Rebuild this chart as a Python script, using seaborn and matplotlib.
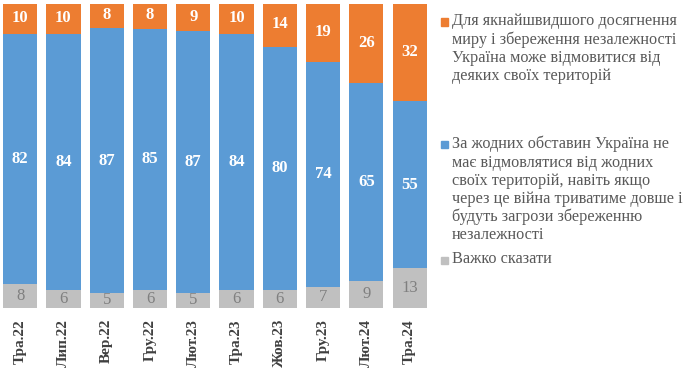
import matplotlib
matplotlib.use("Agg")
import matplotlib.pyplot as plt
import seaborn as sns
import pandas as pd
import numpy as np
from matplotlib.patches import Rectangle

categories = ["Тра.22", "Лип.22", "Вер.22", "Гру.22", "Лют.23",
              "Тра.23", "Жов.23", "Гру.23", "Лют.24", "Тра.24"]
hard_to_say = [8, 6, 5, 6, 5, 6, 6, 7, 9, 13]
never_give_up = [82, 84, 87, 85, 87, 84, 80, 74, 65, 55]
can_give_up = [10, 10, 8, 8, 9, 10, 14, 19, 26, 32]

legend_labels = [
    "Для якнайшвидшого досягнення\nмиру і збереження незалежності\nУкраїна може відмовитися від\nдеяких своїх територій",
    "За жодних обставин Україна не\nмає відмовлятися від жодних\nсвоїх територій, навіть якщо\nчерез це війна триватиме довше і\nбудуть загрози збереженню\nнезалежності",
    "Важко сказати",
]

C_ORANGE = "#ED7D31"
C_BLUE = "#5B9BD5"
C_GREY = "#C0C0C0"

sns.set_style("white")
plt.rcParams['font.family'] = ['Liberation Serif', 'DejaVu Serif']

df = pd.DataFrame({"cat": categories, "grey": hard_to_say,
                   "blue": never_give_up, "orange": can_give_up})
# 100% stacked: normalise each bar to its total
tot = df["grey"] + df["blue"] + df["orange"]
df["grey_p"] = df["grey"] / tot * 100
df["blue_p"] = df["blue"] / tot * 100
df["orange_p"] = df["orange"] / tot * 100
df["b2"] = df["grey_p"]
df["b3"] = df["grey_p"] + df["blue_p"]

fig = plt.figure(figsize=(6.9, 3.73), dpi=100)
ax = fig.add_axes([0.0, (373 - 308) / 373, 430 / 690, (308 - 4) / 373])

w = 0.79
sns.barplot(data=df, x="cat", y="grey_p", order=categories, color=C_GREY,
            width=w, ax=ax, saturation=1, linewidth=0)
sns.barplot(data=df, x="cat", y="blue_p", order=categories, color=C_BLUE,
            width=w, ax=ax, saturation=1, linewidth=0, bottom=df["b2"].values)
sns.barplot(data=df, x="cat", y="orange_p", order=categories, color=C_ORANGE,
            width=w, ax=ax, saturation=1, linewidth=0, bottom=df["b3"].values)

for i in range(len(categories)):
    g, b, o = hard_to_say[i], never_give_up[i], can_give_up[i]
    gp, bp, op = df["grey_p"][i], df["blue_p"][i], df["orange_p"][i]
    ax.text(i, gp / 2, str(g), ha="center", va="center", color="#7F7F7F",
            fontsize=12)
    ax.text(i, gp + bp / 2, str(b), ha="center", va="center", color="white",
            fontsize=12, fontweight="bold")
    ax.text(i, gp + bp + op / 2 + 0.3, str(o), ha="center", va="center",
            color="white", fontsize=12, fontweight="bold")

ax.set_ylim(0, 100)
ax.set_xlim(-0.465, 9.47)
ax.set_xlabel("")
ax.set_ylabel("")
ax.set_yticks([])
for s in ax.spines.values():
    s.set_visible(False)
ax.tick_params(axis="x", length=0, pad=8)
ax.set_xticks(range(len(categories)))
ax.set_xticklabels(categories, rotation=90, fontsize=11, fontweight="bold",
                   color="#404040")

# Legend (manual)
H = 373.0
entries = [(C_ORANGE, legend_labels[0], 22), (C_BLUE, legend_labels[1], 145),
           (C_GREY, legend_labels[2], 260)]
for col, lab, ytop in entries:
    fig.patches.append(Rectangle((441 / 690, 1 - (ytop + 3.5) / H), 7 / 690, 7 / H,
                                 transform=fig.transFigure, color=col,
                                 figure=fig))
    fig.text(452 / 690, 1 - (ytop - 9) / H, lab, ha="left", va="top",
             fontsize=11.7, color="#595959", linespacing=1.17)

fig.savefig("out.png", dpi=100)
